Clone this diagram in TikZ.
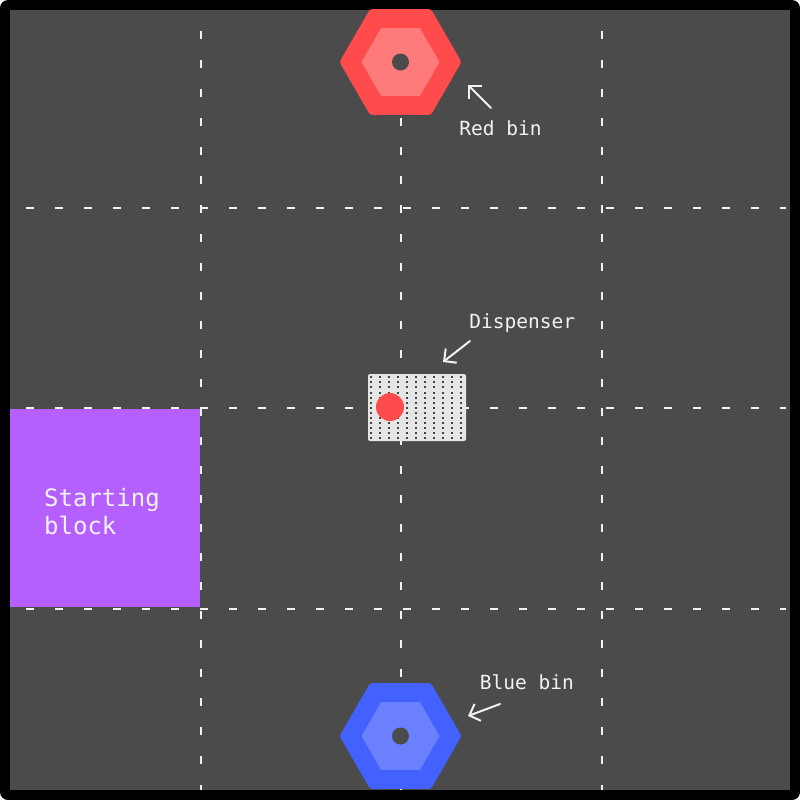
\documentclass[tikz,border=0pt]{standalone}
\usepackage{fontspec}
\setmainfont{DejaVu Sans Mono}
\usetikzlibrary{arrows.meta, positioning, shapes.geometric}

\definecolor{floorgray}{HTML}{4B4B4B}
\definecolor{binred}{HTML}{FF4B4B}
\definecolor{binredin}{HTML}{FF7B7B}
\definecolor{binblue}{HTML}{4361FF}
\definecolor{binbluein}{HTML}{6A80FF}
\definecolor{blockpurple}{HTML}{B55FFF}
\definecolor{dispgray}{HTML}{E6E6E6}
\definecolor{dotgray}{HTML}{444444}
\definecolor{labelwhite}{HTML}{F2F2F2}

\tikzset{
  gridline/.style={labelwhite, line width=1pt, dash pattern=on 4pt off 10.5pt},
  binouter/.style={regular polygon, regular polygon sides=6, minimum size=61pt, inner sep=0pt, rounded corners=1.2pt},
  bininner/.style={regular polygon, regular polygon sides=6, minimum size=39pt, inner sep=0pt},
  binhole/.style={circle, fill=floorgray, minimum size=8.5pt, inner sep=0pt},
  tag/.style={text=labelwhite, font=\fontsize{9.75}{12}\selectfont, inner sep=0pt, anchor=base west},
  pointer/.style={labelwhite, line width=1pt, line cap=round, line join=round, -{Straight Barb[length=4.5pt,width=9pt]}}
}

\begin{document}
\begin{tikzpicture}[x=0.5pt, y=-0.5pt]
    % Frame
    \fill[white] (0,0) rectangle (800,800);
    \fill[black, rounded corners=4pt] (0,0) rectangle (800,800);
    \fill[floorgray] (10,10) rectangle (790,790);

    % Grid
    \foreach \gx in {200.5,401,602} \draw[gridline] (\gx,31) -- (\gx,790);
    \foreach \gy in {207.5,407.5,609} \draw[gridline] (26,\gy) -- (786,\gy);

    % Starting block
    \node[fill=blockpurple, minimum width=95pt, minimum height=99pt, inner sep=0pt] (start) at (105,508) {};
    \node[text=labelwhite, align=left, inner sep=0pt, font=\fontsize{12}{14}\selectfont,
          xshift=-1.5pt, yshift=-2pt] (starttext) at (start.center) {Starting\\block};

    % Bins
    \node[binouter, fill=binred] (redbin) at (400.5,62) {};
    \node[bininner, fill=binredin] (redcore) at (redbin.center) {};
    \node[binhole] (redhole) at (redbin.center) {};

    \node[binouter, fill=binblue] (bluebin) at (400.5,736) {};
    \node[bininner, fill=binbluein] (bluecore) at (bluebin.center) {};
    \node[binhole] (bluehole) at (bluebin.center) {};

    % Dispenser
    \node[fill=dispgray, minimum width=49pt, minimum height=33.5pt, inner sep=0pt, rounded corners=1pt] (dispenser) at (417,407.5) {};
    \foreach \i in {0,...,10}
        \foreach \j in {0,...,12}
            \fill[dotgray] ({369.7+9*\i},{376.3+5.07*\j}) rectangle ++(2,2);
    \node[circle, fill=binred, minimum size=14pt, inner sep=0pt] (ball) at (390,407) {};

    % Labels
    \node[tag] (redlabel) at (459,135) {Red bin};
    \coordinate (redtail) at (491,108);
    \coordinate (redtip) at (468,85);
    \draw[pointer] (redtail) -- (redtip);

    \node[tag] (displabel) at (469,328) {Dispenser};
    \coordinate (disptail) at (470,341);
    \coordinate (disptip) at (443,362);
    \draw[pointer] (disptail) -- (disptip);

    \node[tag] (bluelabel) at (479.5,689) {Blue bin};
    \coordinate (bluetail) at (500,704);
    \coordinate (bluetip) at (468,716);
    \draw[pointer] (bluetail) -- (bluetip);
\end{tikzpicture}
\end{document}
